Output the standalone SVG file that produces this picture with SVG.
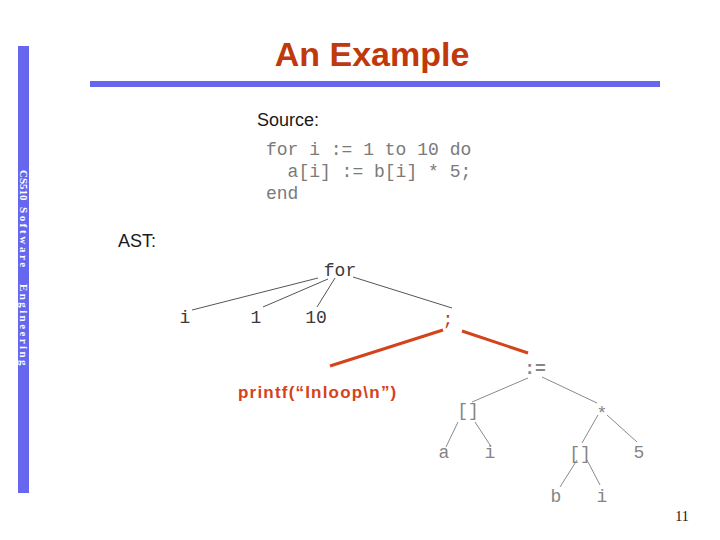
<svg xmlns="http://www.w3.org/2000/svg" width="720" height="540" viewBox="0 0 720 540">
<style>
.mono{font-family:"Liberation Mono","DejaVu Sans Mono",monospace;font-size:18px;text-anchor:middle}
.dark{fill:#3a3a3a}
.grey{fill:#858585}
.code{font-family:"Liberation Mono","DejaVu Sans Mono",monospace;font-size:18px;fill:#7a7a7a}
.lbl{font-family:"Liberation Sans",Arial,sans-serif;font-size:18px;fill:#1a1a1a}
.e1{stroke:#555;stroke-width:1;fill:none}
.e2{stroke:#8a8a8a;stroke-width:1;fill:none}
.red{stroke:#d4431a;stroke-width:3;fill:none}
.vt{font-family:"Liberation Serif",serif;font-size:11px;font-weight:bold;fill:#fff}
</style>
<rect width="720" height="540" fill="#fff"/>
<rect x="18" y="46" width="11" height="447" fill="#6666ee"/>
<rect x="90" y="81" width="570" height="6" fill="#6666ee"/>
<g id="sidebar-text">
<text transform="translate(19.5,170) rotate(90)" class="vt">CS510</text>
<text transform="translate(19.5,207) rotate(90)" class="vt" letter-spacing="2.6">Software</text>
<text transform="translate(19.5,284) rotate(90)" class="vt" letter-spacing="2.4">Engineering</text>
</g>
<text x="372" y="66" text-anchor="middle" font-family="'Comic Sans MS','Liberation Sans',sans-serif" font-weight="bold" font-size="34" fill="#c0390c">An Example</text>
<text x="257" y="126" class="lbl">Source:</text>
<text x="266" y="155" class="code" xml:space="preserve">for i := 1 to 10 do</text>
<text x="266" y="177" class="code" xml:space="preserve">  a[i] := b[i] * 5;</text>
<text x="266" y="199" class="code">end</text>
<text x="118" y="247" class="lbl">AST:</text>
<g id="connectors">
<line class="e1" x1="318" y1="278" x2="192" y2="310"/>
<line class="e1" x1="328" y1="279" x2="263" y2="307"/>
<line class="e1" x1="335" y1="278" x2="317" y2="307"/>
<line class="e1" x1="353" y1="277" x2="452" y2="308"/>
<line class="red" x1="443" y1="330" x2="330" y2="366"/>
<line class="red" x1="462" y1="331" x2="528" y2="353"/>
<line class="e2" x1="528" y1="378" x2="472" y2="402"/>
<line class="e2" x1="542" y1="377" x2="597" y2="403"/>
<line class="e2" x1="458" y1="422" x2="446" y2="447"/>
<line class="e2" x1="475" y1="422" x2="490" y2="445"/>
<line class="e2" x1="598" y1="415" x2="582" y2="443"/>
<line class="e2" x1="607" y1="415" x2="637" y2="442"/>
<line class="e2" x1="577" y1="460" x2="560" y2="487"/>
<line class="e2" x1="587" y1="460" x2="600" y2="485"/>
</g>
<g id="n-for"><text x="340" y="276" class="mono dark">for</text></g>
<g id="n-i"><text x="185" y="323" class="mono dark">i</text></g>
<g id="n-1"><text x="256" y="323" class="mono dark">1</text></g>
<g id="n-10"><text x="316" y="323" class="mono dark">10</text></g>
<g id="n-seq"><text x="448" y="325" class="mono" fill="#b8401c">;</text></g>
<g id="n-printf"><text x="238" y="398" font-family="'Liberation Sans',Arial,sans-serif" font-weight="bold" font-size="17" letter-spacing="1.2" fill="#d4431a">printf(“Inloop\n”)</text></g>
<g id="n-assign"><text x="535" y="374" class="mono grey" font-weight="bold">:=</text></g>
<g id="n-idx1"><text x="468" y="416" class="mono grey">[]</text></g>
<g id="n-mul"><text x="602" y="419" class="mono grey">*</text></g>
<g id="n-a"><text x="444" y="458" class="mono grey">a</text></g>
<g id="n-i2"><text x="490" y="458" class="mono grey">i</text></g>
<g id="n-idx2"><text x="580" y="459" class="mono grey">[]</text></g>
<g id="n-5"><text x="639" y="458" class="mono grey">5</text></g>
<g id="n-b"><text x="556" y="502" class="mono grey">b</text></g>
<g id="n-i3"><text x="602" y="502" class="mono grey">i</text></g>
<text x="682" y="521" text-anchor="middle" font-family="'Liberation Serif',serif" font-size="14" fill="#111">11</text>
</svg>
